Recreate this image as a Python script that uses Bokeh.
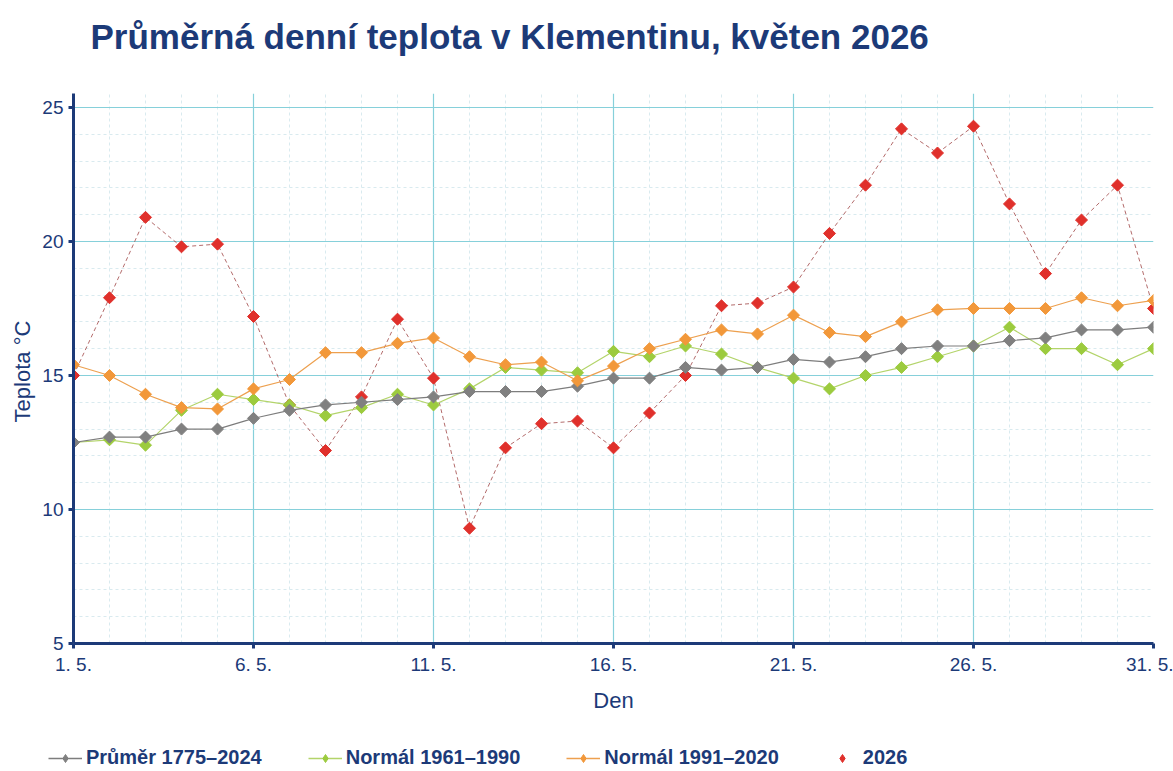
import math
from bokeh.plotting import figure
from bokeh.layouts import column
from bokeh.models import FixedTicker, Legend, LegendItem
from bokeh.embed import file_html
from bokeh.resources import INLINE

days = list(range(1, 32))
x_tick_days = [1, 6, 11, 16, 21, 26, 31]
x_tick_labels = ["1. 5.", "6. 5.", "11. 5.", "16. 5.", "21. 5.", "26. 5.", "31. 5."]
y_ticks = [5, 10, 15, 20, 25]

prumer_1775_2024 = [12.5, 12.7, 12.7, 13.0, 13.0, 13.4, 13.7, 13.9, 14.0,
                    14.1, 14.2, 14.4, 14.4, 14.4, 14.6, 14.9, 14.9, 15.3, 15.2, 15.3,
                    15.6, 15.5, 15.7, 16.0, 16.1, 16.1, 16.3, 16.4, 16.7, 16.7, 16.8]
normal_1961_1990 = [12.5, 12.6, 12.4, 13.7, 14.3, 14.1, 13.9, 13.5, 13.8,
                    14.3, 13.9, 14.5, 15.3, 15.2, 15.1, 15.9, 15.7, 16.1, 15.8, 15.3,
                    14.9, 14.5, 15.0, 15.3, 15.7, 16.1, 16.8, 16.0, 16.0, 15.4, 16.0]
normal_1991_2020 = [15.4, 15.0, 14.3, 13.8, 13.75, 14.5, 14.85, 15.85, 15.85,
                    16.2, 16.4, 15.7, 15.4, 15.5, 14.8, 15.35, 16.0, 16.35, 16.7, 16.55,
                    17.25, 16.6, 16.45, 17.0, 17.45, 17.5, 17.5, 17.5, 17.9, 17.6, 17.8]
rok_2026 = [15.0, 17.9, 20.9, 19.8, 19.9, 17.2, 13.9, 12.2, 14.2,
            17.1, 14.9, 9.3, 12.3, 13.2, 13.3, 12.3, 13.6, 15.0, 17.6, 17.7,
            18.3, 20.3, 22.1, 24.2, 23.3, 24.3, 21.4, 18.8, 20.8, 22.1, 17.5]

title_text = "Průměrná denní teplota v Klementinu, květen 2026"
series_labels = ["Průměr 1775–2024", "Normál 1961–1990", "Normál 1991–2020", "2026"]

NAVY = "#1c3a78"
FONT = "Liberation Sans"

GREY_L, GREY_M = "#7d7d7d", "#808080"
GREEN_L, GREEN_M = "#b3d46a", "#9ccb3e"
ORANGE_L, ORANGE_M = "#eda04f", "#f2983a"
RED_L, RED_M = "#a04545", "#e0302b"

DIAMOND = dict(marker="square", angle=math.pi / 4, size=8.5)
LEG_DIAMOND = dict(marker="diamond", size=14)


def blank(fig):
    fig.outline_line_color = None
    fig.grid.visible = False
    fig.background_fill_color = "white"
    fig.border_fill_color = "white"


# ---- header with the title ----
tf = figure(width=1173, height=93, output_backend="svg", toolbar_location=None,
            x_range=(0, 1), y_range=(0, 1), x_axis_type=None, y_axis_type=None,
            min_border_left=73, min_border_right=20, min_border_top=0, min_border_bottom=0,
            title=title_text)
blank(tf)
tf.title.text_font = FONT
tf.title.text_font_size = "35px"
tf.title.text_font_style = "bold"
tf.title.text_color = NAVY
tf.title.align = "left"
tf.title.offset = 17
tf.title.standoff = 28

# ---- main chart ----
p = figure(width=1173, height=634, output_backend="svg", toolbar_location=None,
           x_range=(1, 31), y_range=(5, 25.52), title=None,
           min_border_left=73, min_border_right=20, min_border_top=0, min_border_bottom=84)
p.outline_line_color = None
p.background_fill_color = "white"
p.border_fill_color = "white"

p.xaxis.ticker = FixedTicker(ticks=x_tick_days,
                             minor_ticks=[d for d in days if d not in x_tick_days])
p.xaxis.major_label_overrides = {d: l for d, l in zip(x_tick_days, x_tick_labels)}
p.yaxis.ticker = FixedTicker(ticks=y_ticks,
                             minor_ticks=[v for v in range(5, 26) if v not in y_ticks])

for ax in (p.xaxis[0], p.yaxis[0]):
    ax.axis_line_color = NAVY
    ax.axis_line_width = 3
    ax.major_tick_line_color = NAVY
    ax.major_tick_line_width = 3
    ax.major_tick_out = 5
    ax.major_tick_in = 0
    ax.minor_tick_line_color = None
    ax.major_label_text_font = FONT
    ax.major_label_text_font_size = "19px"
    ax.major_label_text_color = NAVY
    ax.axis_label_text_font = FONT
    ax.axis_label_text_font_size = "22px"
    ax.axis_label_text_font_style = "normal"
    ax.axis_label_text_color = NAVY

p.xaxis.axis_label = "Den"
p.yaxis.axis_label = "Teplota  °C"
p.xaxis.major_label_standoff = 5
p.xaxis.axis_label_standoff = 10
p.yaxis.major_label_standoff = 5
p.yaxis.axis_label_standoff = 4

for g in (p.xgrid[0], p.ygrid[0]):
    g.grid_line_color = "#86d0da"
    g.grid_line_width = 1.2
    g.minor_grid_line_color = "#d9eaef"
    g.minor_grid_line_dash = "3 3"
    g.minor_grid_line_width = 1

p.line(days, rok_2026, line_color=RED_L, line_width=0.8, line_dash="4 3")
p.scatter(days, rok_2026, fill_color=RED_M, line_color=RED_M, **DIAMOND)

p.line(days, normal_1961_1990, line_color=GREEN_L, line_width=1.2)
p.scatter(days, normal_1961_1990, fill_color=GREEN_M, line_color=GREEN_M, **DIAMOND)

p.line(days, prumer_1775_2024, line_color=GREY_L, line_width=1.2)
p.scatter(days, prumer_1775_2024, fill_color=GREY_M, line_color=GREY_M, **DIAMOND)

p.line(days, normal_1991_2020, line_color=ORANGE_L, line_width=1.2)
p.scatter(days, normal_1991_2020, fill_color=ORANGE_M, line_color=ORANGE_M, **DIAMOND)

# ---- legend strip (sample glyphs drawn off-range) ----
lf = figure(width=1173, height=44, output_backend="svg", toolbar_location=None,
            x_range=(0, 1), y_range=(0, 1), x_axis_type=None, y_axis_type=None, title=None,
            min_border_left=0, min_border_right=0, min_border_top=0, min_border_bottom=0)
blank(lf)
if "frame_align" in lf.properties():
    lf.frame_align = False
off = [-10]
lk_l = lf.line(off, off, line_color=GREY_L, line_width=1.5)
lk_m = lf.scatter(off, off, fill_color=GREY_M, line_color=GREY_M, **LEG_DIAMOND)
lg_l = lf.line(off, off, line_color=GREEN_L, line_width=1.5)
lg_m = lf.scatter(off, off, fill_color=GREEN_M, line_color=GREEN_M, **LEG_DIAMOND)
lo_l = lf.line(off, off, line_color=ORANGE_L, line_width=1.5)
lo_m = lf.scatter(off, off, fill_color=ORANGE_M, line_color=ORANGE_M, **LEG_DIAMOND)
lr_m = lf.scatter(off, off, fill_color=RED_M, line_color=RED_M, **LEG_DIAMOND)

legend = Legend(items=[
    LegendItem(label=series_labels[0], renderers=[lk_l, lk_m]),
    LegendItem(label=series_labels[1], renderers=[lg_l, lg_m]),
    LegendItem(label=series_labels[2], renderers=[lo_l, lo_m]),
    LegendItem(label=series_labels[3], renderers=[lr_m]),
], orientation="horizontal", location=(48, 2))
legend.label_text_font = FONT
legend.label_text_font_size = "20px"
legend.label_text_font_style = "bold"
legend.label_text_color = NAVY
legend.glyph_width = 34
legend.label_standoff = 4
legend.spacing = 46
legend.padding = 0
legend.margin = 0
legend.border_line_color = None
legend.background_fill_alpha = 0
lf.add_layout(legend, "center")

layout = column(tf, p, lf, spacing=0)
open("out.html", "w").write(file_html(layout, INLINE))
